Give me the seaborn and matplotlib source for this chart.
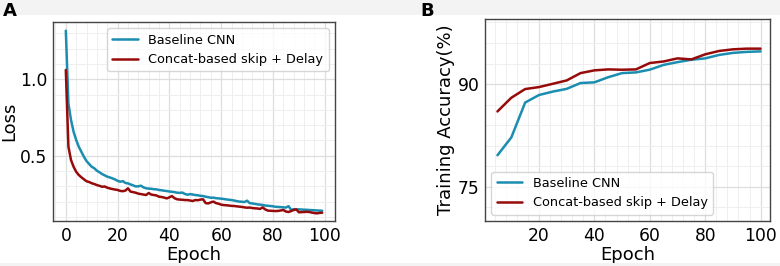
import matplotlib
matplotlib.use("Agg")
import matplotlib.pyplot as plt
from matplotlib.ticker import MultipleLocator, AutoMinorLocator
from matplotlib.patches import Rectangle
import seaborn as sns
import pandas as pd

# loss per epoch (panel A)
loss_epochs = list(range(100))
loss_baseline = [
    1.318, 0.843, 0.734, 0.657, 0.603, 0.559, 0.526, 0.493, 0.465, 0.446,
    0.428, 0.418, 0.402, 0.392, 0.380, 0.372, 0.363, 0.358, 0.352, 0.345,
    0.336, 0.330, 0.334, 0.322, 0.319, 0.312, 0.306, 0.299, 0.300, 0.304,
    0.293, 0.287, 0.285, 0.284, 0.281, 0.280, 0.276, 0.274, 0.271, 0.269,
    0.266, 0.264, 0.262, 0.258, 0.257, 0.259, 0.250, 0.245, 0.249, 0.246,
    0.243, 0.241, 0.238, 0.236, 0.232, 0.229, 0.225, 0.226, 0.222, 0.221,
    0.219, 0.217, 0.214, 0.212, 0.210, 0.207, 0.203, 0.200, 0.199, 0.197,
    0.206, 0.190, 0.188, 0.185, 0.182, 0.180, 0.178, 0.174, 0.173, 0.171,
    0.169, 0.166, 0.165, 0.164, 0.162, 0.161, 0.170, 0.146, 0.150, 0.149,
    0.149, 0.148, 0.147, 0.146, 0.145, 0.144, 0.143, 0.142, 0.141, 0.140]
loss_concat = [
    1.061, 0.560, 0.472, 0.428, 0.395, 0.374, 0.359, 0.346, 0.333, 0.328,
    0.320, 0.315, 0.308, 0.303, 0.297, 0.299, 0.291, 0.286, 0.282, 0.279,
    0.276, 0.270, 0.268, 0.272, 0.287, 0.265, 0.262, 0.258, 0.252, 0.249,
    0.246, 0.243, 0.256, 0.246, 0.243, 0.240, 0.232, 0.230, 0.226, 0.221,
    0.228, 0.236, 0.222, 0.215, 0.213, 0.212, 0.210, 0.210, 0.207, 0.204,
    0.210, 0.209, 0.213, 0.215, 0.190, 0.188, 0.195, 0.200, 0.190, 0.186,
    0.180, 0.177, 0.176, 0.174, 0.172, 0.171, 0.169, 0.167, 0.165, 0.162,
    0.160, 0.161, 0.158, 0.156, 0.155, 0.152, 0.162, 0.149, 0.141, 0.140,
    0.139, 0.138, 0.139, 0.142, 0.145, 0.135, 0.132, 0.138, 0.145, 0.149,
    0.130, 0.131, 0.132, 0.133, 0.132, 0.128, 0.125, 0.123, 0.126, 0.127]

# training accuracy every 5 epochs (panel B)
acc_epochs = [5, 10, 15, 20, 25, 30, 35, 40, 45, 50,
              55, 60, 65, 70, 75, 80, 85, 90, 95, 100]
acc_baseline = [79.6, 82.2, 87.3, 88.4, 88.9, 89.3, 90.15, 90.25, 91.0, 91.6,
                91.7, 92.1, 92.8, 93.2, 93.55, 93.75, 94.25, 94.55, 94.7, 94.77]
acc_concat = [86.0, 88.0, 89.27, 89.56, 90.04, 90.53, 91.6, 92.0, 92.14, 92.09,
              92.14, 93.07, 93.3, 93.75, 93.6, 94.34, 94.83, 95.07, 95.17, 95.17]

names = ["Baseline CNN", "Concat-based skip + Delay"]
colors = ["#1a8db0", "#960a0a"]

loss_df = pd.DataFrame({"Epoch": loss_epochs * 2,
                        "value": loss_baseline + loss_concat,
                        "model": [names[0]] * 100 + [names[1]] * 100})
acc_df = pd.DataFrame({"Epoch": acc_epochs * 2,
                       "value": acc_baseline + acc_concat,
                       "model": [names[0]] * 20 + [names[1]] * 20})

sns.set_style("white")
plt.rcParams["font.family"] = ["DejaVu Sans"]
plt.rcParams["text.color"] = "black"
plt.rcParams["axes.labelcolor"] = "black"
plt.rcParams["xtick.color"] = "black"
plt.rcParams["ytick.color"] = "black"

fig = plt.figure(figsize=(7.8, 2.66), dpi=100, facecolor="white")
# light grey strip along top and bottom like the source page
fig.patches.append(Rectangle((0, 1 - 15 / 266), 1, 15 / 266, transform=fig.transFigure,
                             facecolor="#f3f3f3", edgecolor="none", zorder=0))
fig.patches.append(Rectangle((0, 0), 1, 3 / 266, transform=fig.transFigure,
                             facecolor="#f3f3f3", edgecolor="none", zorder=0))

ax1 = fig.add_axes([53 / 780, 1 - 221 / 266, 282 / 780, 199 / 266])
ax2 = fig.add_axes([485 / 780, 1 - 221 / 266, 285 / 780, 202 / 266])

sns.lineplot(data=loss_df, x="Epoch", y="value", hue="model",
             palette=colors, linewidth=1.8, ax=ax1)
sns.lineplot(data=acc_df, x="Epoch", y="value", hue="model",
             palette=colors, linewidth=1.8, ax=ax2)

ax1.set_ylim(0.073, 1.375)
ax1.xaxis.set_major_locator(MultipleLocator(20))
ax1.xaxis.set_minor_locator(AutoMinorLocator(5))
ax1.yaxis.set_major_locator(MultipleLocator(0.5))
ax1.yaxis.set_minor_locator(AutoMinorLocator(5))
ax1.set_ylabel("Loss", fontsize=13, labelpad=1)

ax2.set_xlim(0.5, 103.4)
ax2.set_ylim(70, 99.5)
ax2.xaxis.set_major_locator(MultipleLocator(20))
ax2.xaxis.set_minor_locator(AutoMinorLocator(5))
ax2.yaxis.set_major_locator(MultipleLocator(15))
ax2.yaxis.set_minor_locator(AutoMinorLocator(5))
ax2.set_ylabel("Training Accuracy(%)", fontsize=13, labelpad=2)

for ax, loc in [(ax1, "upper right"), (ax2, "lower left")]:
    ax.set_xlabel("Epoch", fontsize=13, labelpad=1)
    ax.grid(which="major", color="#dedede", linewidth=0.9)
    ax.grid(which="minor", color="#efefef", linewidth=0.7)
    ax.set_axisbelow(True)
    ax.tick_params(which="major", direction="inout", length=4, width=0.8,
                   color="#555555", labelcolor="black", labelsize=12.3, pad=2)
    ax.tick_params(which="minor", direction="in", length=2, width=0.6,
                   color="#777777")
    for s in ax.spines.values():
        s.set_visible(True)
        s.set_color("#444444")
        s.set_linewidth(1.0)
    ax.legend(loc=loc, fontsize=9.3, title=None, frameon=True,
              fancybox=True, framealpha=0.8, edgecolor="#cccccc")

fig.text(3 / 780, 1 - 2 / 266, "A", fontsize=13, fontweight="bold", va="top", ha="left")
fig.text(420 / 780, 1 - 2 / 266, "B", fontsize=13, fontweight="bold", va="top", ha="left")

fig.savefig("out.png", dpi=100, facecolor="white")
